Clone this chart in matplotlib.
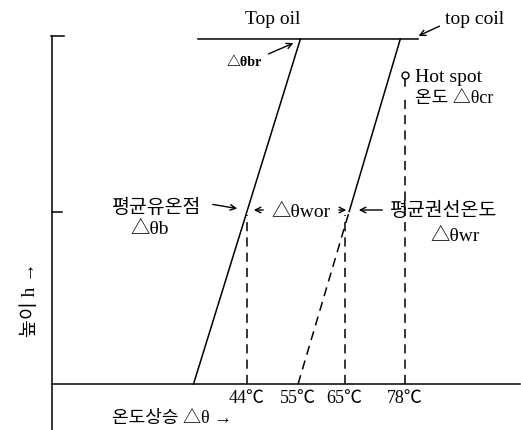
import matplotlib.pyplot as plt

plt.rcParams['font.family'] = ['Liberation Serif', 'Noto Sans CJK KR', 'DejaVu Sans']

# height levels (bottom, middle, top) and temperature rises along them
h_levels = [0, 0.5, 1]
oil_rise = [32.5, 44, 55.5]
winding_rise = [55, 66, 77]
hot_spot = 78
tick_temps = [44, 55, 65, 78]
tick_labels = ['44℃', '55℃', '65℃', '78℃']

W, H = 521, 431
fig = plt.figure(figsize=(W / 100, H / 100), dpi=100)
ax = fig.add_axes([0, 0, 1, 1])
# pixel mapping: x_px = 42.5 + 4.647*T, y_px = 385 - 345*h
ax.set_xlim(-42.5 / 4.647, (W - 42.5) / 4.647)
ax.set_ylim((385 - H) / 345, 385 / 345)
ax.set_axis_off()

def fx(px):
    return px / W

def fy(py):
    return 1 - py / H

def arrow(x0, y0, x1, y1):
    ax.annotate('', xy=(fx(x1), fy(y1)), xycoords='figure fraction',
                xytext=(fx(x0), fy(y0)), textcoords='figure fraction',
                arrowprops=dict(arrowstyle='->', color='black', lw=1))

lw = 1.1
k = 'black'
dash = (0, (6, 4))

# axes
ax.plot([2, 2], [-0.2, 1.01], color=k, lw=lw)
ax.plot([1.9, 4.7], [1.01, 1.01], color=k, lw=lw)
ax.plot([2, 4.3], [0.5, 0.5], color=k, lw=lw)
ax.plot([2, 102.8], [0, 0], color=k, lw=lw)

# top oil line
ax.plot([33.5, 80.8], [1, 1], color=k, lw=lw)

# oil line
ax.plot(oil_rise, h_levels, color=k, lw=lw)
# winding line: dashed lower half, solid upper half
ax.plot(winding_rise[:2], h_levels[:2], color=k, lw=lw, ls=dash)
ax.plot(winding_rise[1:], h_levels[1:], color=k, lw=lw)

# vertical dashed lines
ax.plot([tick_temps[0]] * 2, [0, 0.49], color=k, lw=lw, ls=dash)
ax.plot([tick_temps[2]] * 2, [0, 0.49], color=k, lw=lw, ls=dash)
ax.plot([hot_spot] * 2, [0, 0.84], color=k, lw=lw, ls=dash)
ax.plot([hot_spot] * 2, [0.865, 0.885], color=k, lw=lw)
ax.plot([hot_spot], [0.895], marker='o', ms=5, mfc='white', mec=k, mew=1)

# tick labels
for t, lab in zip(tick_temps, tick_labels):
    ax.text(t, -0.015, lab, ha='center', va='top', fontsize=13)

# text labels
fs = 14
fig.text(fx(273), fy(19), 'Top oil', ha='center', va='center', fontsize=14)
fig.text(fx(445), fy(20), 'top coil', ha='left', va='center', fontsize=14)
arrow(442, 26, 416, 38)
fig.text(fx(244), fy(63), '△θbr', ha='center', va='center', fontsize=10, weight='bold')
arrow(266, 56, 296, 43)
fig.text(fx(415), fy(77), 'Hot spot', ha='left', va='center', fontsize=14)
fig.text(fx(415), fy(99), '온도 △θcr', ha='left', va='center', fontsize=13)

fig.text(fx(157), fy(208), '평균유온점', ha='center', va='center', fontsize=fs)
fig.text(fx(150), fy(230), '△θb', ha='center', va='center', fontsize=fs)
arrow(210, 205, 240, 210)

fig.text(fx(301), fy(213), '△θwor', ha='center', va='center', fontsize=fs)
arrow(266, 211, 251, 211)
arrow(336, 211, 349, 211)

fig.text(fx(444), fy(211), '평균권선온도', ha='center', va='center', fontsize=fs)
fig.text(fx(455), fy(237), '△θwr', ha='center', va='center', fontsize=fs)
arrow(385, 211, 356, 211)

fig.text(fx(112), fy(419), '온도상승 △θ →', ha='left', va='center', fontsize=13)
fig.text(fx(30), fy(300), '높이 h →', ha='center', va='center', fontsize=fs, rotation=90)

fig.savefig('out.png', dpi=100, facecolor='white')
